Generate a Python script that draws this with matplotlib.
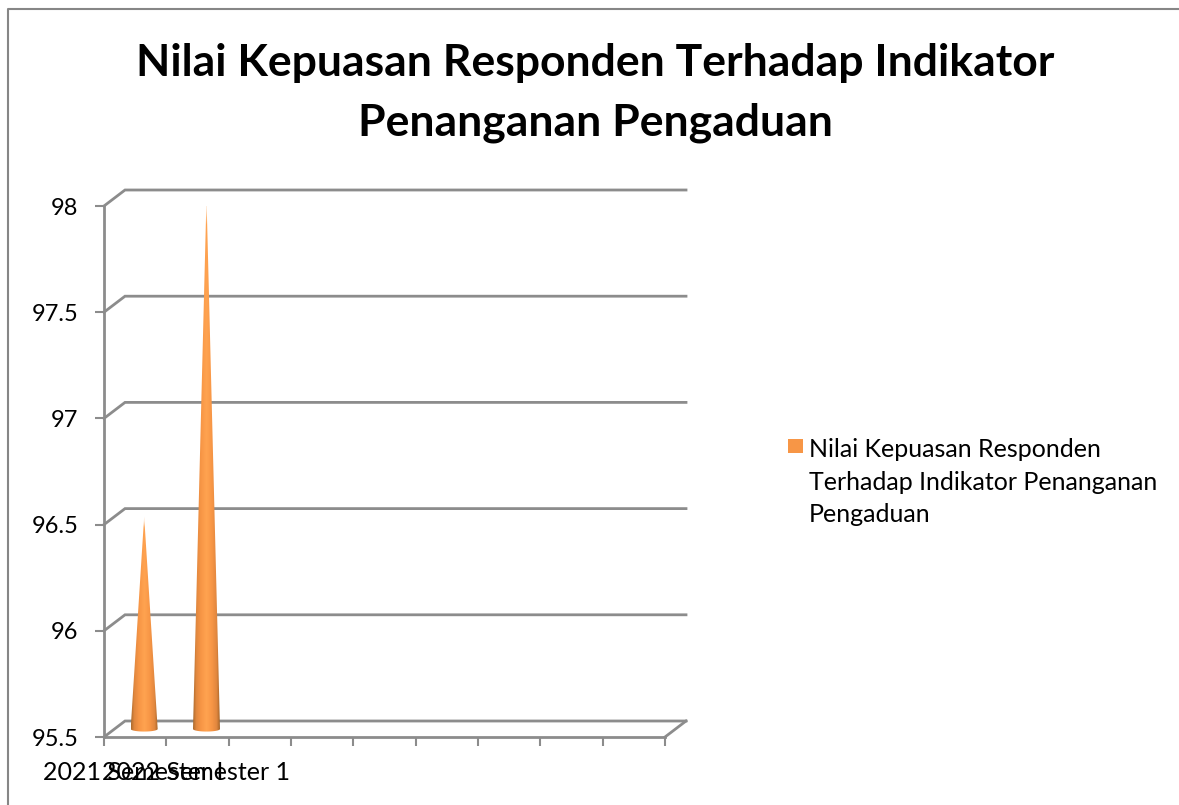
import numpy as np
import matplotlib
matplotlib.use("Agg")
import matplotlib.pyplot as plt
from matplotlib.lines import Line2D
from matplotlib.patches import Polygon, Rectangle

W, H = 1179, 805

title = "Nilai Kepuasan Responden Terhadap Indikator\nPenanganan Pengaduan"
legend_text = "Nilai Kepuasan Responden\nTerhadap Indikator Penanganan\nPengaduan"
categories = ["2021 Semester I", "2022 Semester 1"]
values = [96.5, 98.0]
y_ticks = [95.5, 96, 96.5, 97, 97.5, 98]
y_labels = ["95.5", "96", "96.5", "97", "97.5", "98"]
n_slots = 9

grey = "#8c8c8c"
orange = "#f79646"

plt.rcParams["font.family"] = ["Lato", "DejaVu Sans"]

fig = plt.figure(figsize=(W / 100, H / 100), dpi=100)

# front plane of the fake 3d box, in pixels of the reference
left, right, top, bottom = 104, 665, 206, 737
px_x = (right - left) / n_slots
px_y = (bottom - top) / 2.5
ax = fig.add_axes([left / W, 1 - bottom / H, (right - left) / W, (bottom - top) / H])
ax.set_xlim(-0.5, n_slots - 0.5)
ax.set_ylim(95.5, 98)
ax.patch.set_alpha(0)
for s in ["top", "right"]:
    ax.spines[s].set_visible(False)
for s in ["left", "bottom"]:
    ax.spines[s].set_color(grey)
    ax.spines[s].set_linewidth(2)

# depth of the box in data units
dx = 21 / px_x
dy = 16 / px_y

x0, x1 = -0.5, n_slots - 0.5
for t in y_ticks:
    ax.plot([x0, x0 + dx, x1 + dx], [t, t + dy, t + dy], color=grey, lw=2, clip_on=False, zorder=1,
            solid_joinstyle="miter")
ax.plot([x1, x1 + dx], [95.5, 95.5 + dy], color=grey, lw=2, clip_on=False, zorder=1)

ax.set_yticks(y_ticks, y_labels)
ax.set_xticks(np.arange(n_slots + 1) - 0.5, [""] * (n_slots + 1))
ax.tick_params(axis="both", color=grey, width=1.5, length=6.5, labelsize=17, pad=12)

# cones: horizontal shading, tip fades out
half = 13.5 / px_x
grad = np.array([0.0, 0.12, 0.3, 0.5, 0.7, 0.88, 1.0])
shade = np.array([[170, 105, 45], [225, 135, 62], [247, 150, 70], [255, 163, 80],
                  [247, 150, 70], [225, 135, 62], [165, 100, 42]]) / 255
for i, v in enumerate(values):
    cx = i + dx / 2 - 1.5 / px_x
    base = 95.5 + dy / 2
    tip = v + dy / 2
    xs = np.linspace(0, 1, 200)
    ys = np.linspace(0, 1, 400)
    img = np.ones((400, 200, 4))
    for c in range(3):
        img[:, :, c] = np.interp(xs, grad, shade[:, c])
    # row 0 is the tip
    img[:, :, 3] = np.clip(ys / 0.05, 0.4, 1)[:, None]
    im = ax.imshow(img, extent=(cx - half, cx + half, base - 0.03, tip), aspect="auto", zorder=3,
                   interpolation="bilinear")
    arc = np.linspace(0, np.pi, 30)
    pts = [(cx, tip)] + [(cx + half * np.cos(a), base - 0.012 * np.sin(a)) for a in arc]
    clip = Polygon(pts, transform=ax.transData, fc="none", ec="none")
    ax.add_patch(clip)
    im.set_clip_path(clip)
ax.set_xlim(-0.5, n_slots - 0.5)
ax.set_ylim(95.5, 98)

# both labels sit on their own slot, so they run into each other like in the original
for i, name in enumerate(categories):
    ax.text(i - 2 / px_x, 95.5 - 35 / px_y, name, fontsize=18, ha="center", va="center", clip_on=False)

fig.text(595 / W, 1 - 93 / H, title, fontsize=32, fontweight="bold", ha="center", va="center",
         linespacing=1.6)

fig.patches.append(Rectangle((788 / W, 1 - 453 / H), 15 / W, 14 / H, transform=fig.transFigure,
                             fc=orange, ec="none"))
fig.text(809 / W, 1 - 482 / H, legend_text, fontsize=18, ha="left", va="center", linespacing=1.48)

# outer chart border
fig.add_artist(Line2D([8 / W, 8 / W, 1], [0, 1 - 9 / H, 1 - 9 / H], transform=fig.transFigure,
                      color="#868686", lw=1.5))

fig.savefig("out.png", dpi=100)
